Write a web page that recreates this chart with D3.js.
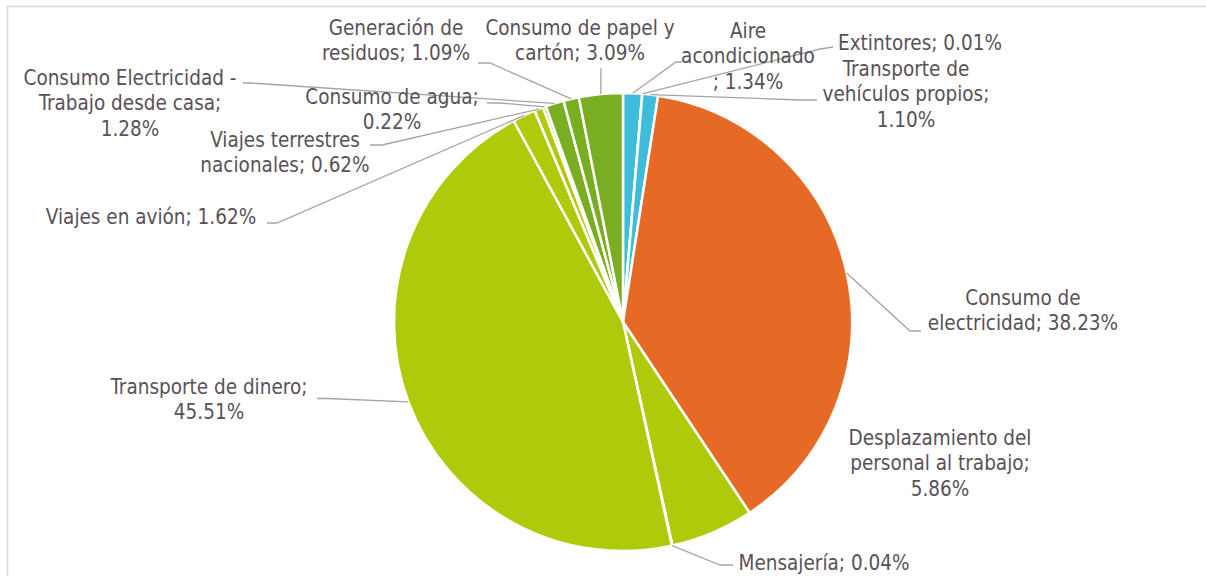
<!DOCTYPE html>
<html>
<head>
<meta charset="utf-8">
<script src="https://cdn.jsdelivr.net/npm/d3@7"></script>
<style>
    body { margin: 0; background: #fff; }
    svg { display: block; }
    .label text { font-family: "DejaVu Sans Condensed", "DejaVu Sans", sans-serif; font-size: 20.5px; fill: #595157; }
    .leader { fill: none; stroke: #A8A2A6; stroke-width: 1.3; }
</style>
</head>
<body>
<script>
// Slices, clockwise from 12 o'clock
const categories = [
    "Aire acondicionado", "Extintores", "Transporte de vehículos propios",
    "Consumo de electricidad", "Desplazamiento del personal al trabajo", "Mensajería",
    "Transporte de dinero", "Viajes en avión", "Viajes terrestres nacionales",
    "Consumo de agua", "Consumo Electricidad - Trabajo desde casa",
    "Generación de residuos", "Consumo de papel y cartón"
];
const values = [1.34, 0.01, 1.10, 38.23, 5.86, 0.04, 45.51, 1.62, 0.62, 0.22, 1.28, 1.09, 3.09];

// Label text as wrapped in the original
const labelLines = [
    ["Aire", "acondicionado", "; 1.34%"],
    ["Extintores; 0.01%"],
    ["Transporte de", "vehículos propios;", "1.10%"],
    ["Consumo de", "electricidad; 38.23%"],
    ["Desplazamiento del", "personal al trabajo;", "5.86%"],
    ["Mensajería; 0.04%"],
    ["Transporte de dinero;", "45.51%"],
    ["Viajes en avión; 1.62%"],
    ["Viajes terrestres", "nacionales; 0.62%"],
    ["Consumo de agua;", "0.22%"],
    ["Consumo Electricidad -", "Trabajo desde casa;", "1.28%"],
    ["Generación de", "residuos; 1.09%"],
    ["Consumo de papel y", "cartón; 3.09%"]
];

const colors = ["#3DBDDB", "#3DBDDB", "#3DBDDB", "#E66A26", "#AFCA0B", "#AFCA0B",
    "#AFCA0B", "#AFCA0B", "#AFCA0B", "#AFCA0B", "#7AAE22", "#7AAE22", "#7AAE22"];

// Label placement: centre x, first line centre y, leader elbow and end (null = no leader)
const labelLayout = [
    { x: 748, y: 31, elbow: [676, 62], end: [682, 62] },
    { x: 920, y: 43, elbow: [820, 49], end: [833, 47] },
    { x: 906, y: 69, elbow: [800, 100], end: [817, 100] },
    { x: 1023, y: 298, elbow: [910, 331], end: [921, 331] },
    { x: 940, y: 438, elbow: null, end: null },
    { x: 824, y: 563, elbow: [720, 565], end: [733, 565] },
    { x: 209, y: 387, elbow: [327, 398.5], end: [317, 398.5] },
    { x: 151, y: 217, elbow: [277, 223], end: [267, 223] },
    { x: 285, y: 140, elbow: [382, 145], end: [370, 145] },
    { x: 392, y: 97, elbow: [500, 103], end: [487, 103] },
    { x: 130, y: 78, elbow: [250, 83], end: [243, 83] },
    { x: 396, y: 28, elbow: [490, 63], end: [478, 63] },
    { x: 580, y: 28, elbow: [601, 68], end: [601, 68] }
];

const width = 1206;
const height = 576;
const cx = 623, cy = 322, radius = 229;
const lineHeight = 25.3;

const svg = d3.select("body").append("svg")
    .attr("width", width)
    .attr("height", height);

// Chart frame
svg.append("rect")
    .attr("x", 7.5)
    .attr("y", 6.5)
    .attr("width", width + 20)
    .attr("height", height + 20)
    .attr("fill", "none")
    .attr("stroke", "#D9D9D9")
    .attr("stroke-width", 1.5);

const data = categories.map((c, i) => ({ name: c, value: values[i], i }));

const pie = d3.pie()
    .value(d => d.value)
    .sort(null);

const arcs = pie(data);

const arc = d3.arc()
    .innerRadius(0)
    .outerRadius(radius);

const edgeArc = d3.arc()
    .innerRadius(radius)
    .outerRadius(radius);

const g = svg.append("g")
    .attr("transform", `translate(${cx},${cy})`);

g.selectAll("path.slice")
    .data(arcs)
    .join("path")
    .attr("class", "slice")
    .attr("d", arc)
    .attr("fill", d => colors[d.data.i])
    .attr("stroke", "#fff")
    .attr("stroke-width", 2.5)
    .attr("stroke-linejoin", "round");

// Leader lines: slice edge -> elbow -> label
svg.selectAll("path.leader")
    .data(arcs.filter(d => labelLayout[d.data.i].elbow))
    .join("path")
    .attr("class", "leader")
    .attr("d", d => {
        const c = edgeArc.centroid(d);
        const L = labelLayout[d.data.i];
        return `M${cx + c[0]},${cy + c[1]}L${L.elbow[0]},${L.elbow[1]}L${L.end[0]},${L.end[1]}`;
    });

// Labels
const label = svg.selectAll("g.label")
    .data(arcs)
    .join("g")
    .attr("class", "label");

label.append("text")
    .attr("text-anchor", "middle")
    .each(function (d) {
        const L = labelLayout[d.data.i];
        d3.select(this).selectAll("tspan")
            .data(labelLines[d.data.i])
            .join("tspan")
            .attr("x", L.x)
            .attr("y", (t, k) => L.y + k * lineHeight)
            .attr("dy", "0.35em")
            .text(t => t);
    });
</script>
</body>
</html>
